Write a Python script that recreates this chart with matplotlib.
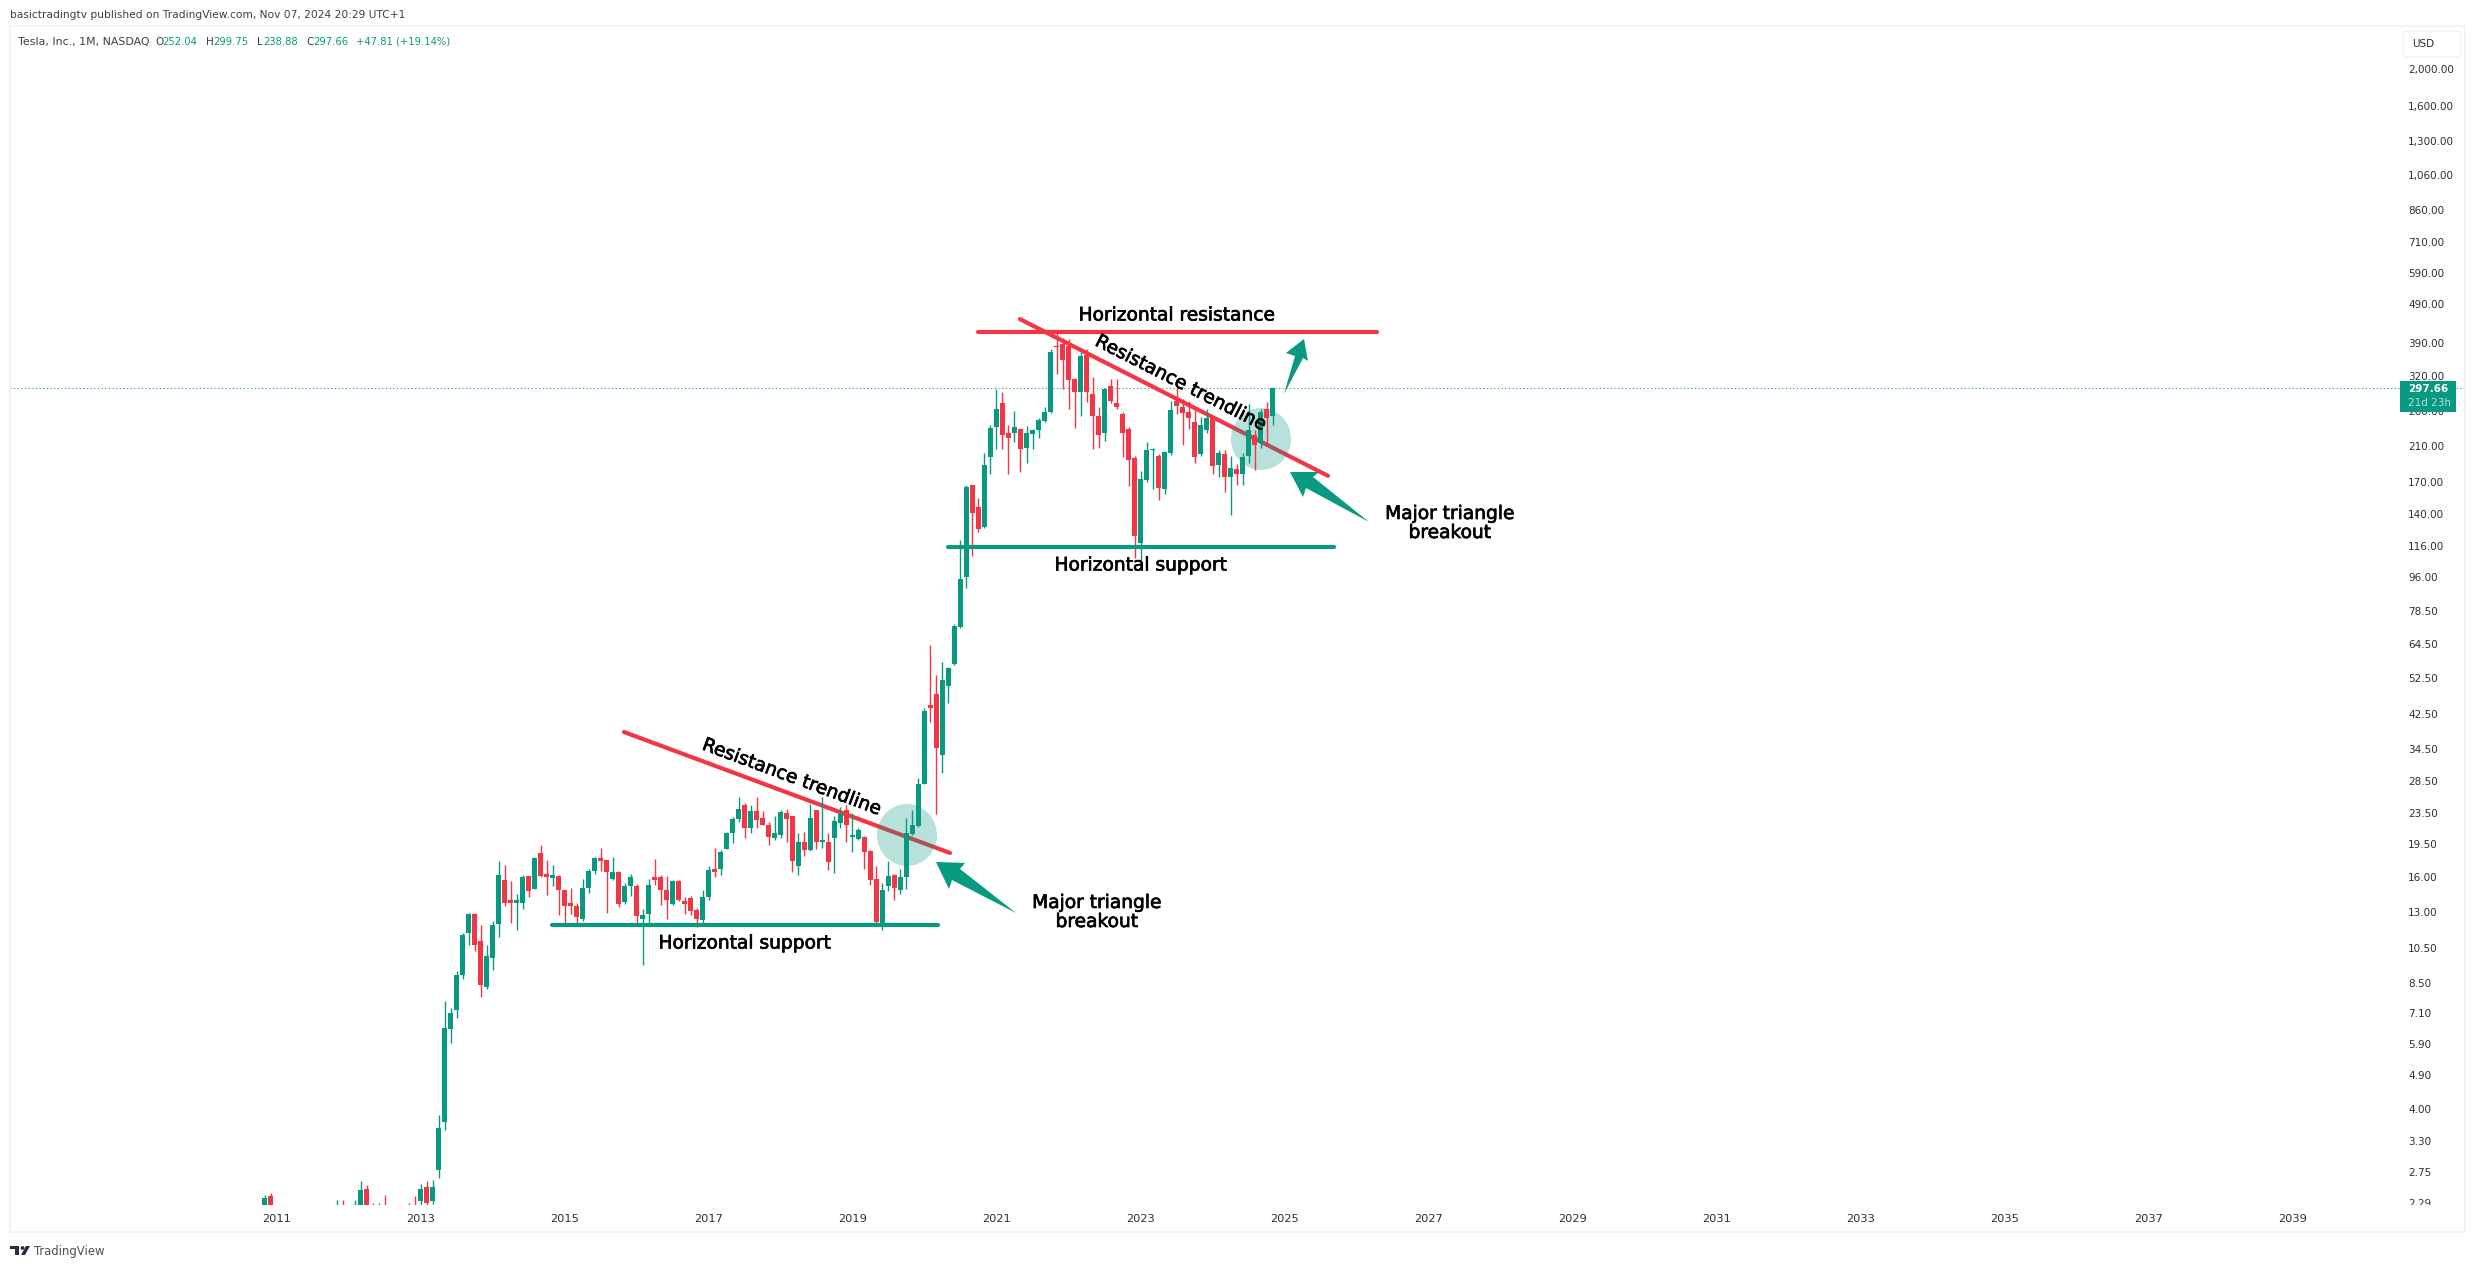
import matplotlib
matplotlib.use('Agg')
import matplotlib.pyplot as plt
import matplotlib.patheffects as pe
from matplotlib.patches import Ellipse, Polygon, Rectangle, FancyBboxPatch, Circle
from matplotlib.ticker import NullLocator
from matplotlib.transforms import Affine2D

W, H = 2475, 1268
GREEN = '#089981'
RED = '#F23645'
DARK = '#2a2e39'

# months counted from Jan 2011, 2010-2012 candles mostly sit below the visible scale
months_early = [-2, -1, 10, 11, 13, 14, 15, 16, 17, 18, 22, 23]
opens_early = [2.1, 2.38, 1.9, 2.2, 1.9, 2.0, 2.49, 2.2, 1.9, 2.1, 1.9, 2.2]
highs_early = [2.40, 2.43, 2.33, 2.33, 2.33, 2.6, 2.55, 2.29, 2.29, 2.40, 2.28, 2.38]
lows_early = [1.9, 1.7, 1.8, 1.9, 1.8, 1.9, 1.9, 2.0, 1.8, 1.9, 1.8, 2.0]
closes_early = [2.36, 1.78, 2.0, 1.9, 2.0, 2.47, 2.0, 2.1, 2.0, 2.0, 2.0, 2.05]

# monthly candles Jan 2013 - Nov 2024, one row per year
opens = [
    2.31, 2.52, 2.31, 2.79, 3.71, 6.46, 7.22, 8.92, 11.5, 12.85, 10.9, 8.3,
    9.9, 12.1, 15.75, 13.95, 13.75, 13.7, 16.1, 14.9, 18.5, 16.3, 15.9, 16.1,
    14.8, 13.7, 13.5, 12.5, 15.0, 16.6, 18.0, 17.7, 15.8, 16.5, 13.8, 15.2,
    15.2, 12.46, 12.85, 16.0, 16.0, 14.8, 13.6, 15.6, 13.9, 14.1, 13.15, 12.4,
    14.2, 16.8, 16.8, 18.9, 20.8, 22.7, 24.7, 21.5, 23.7, 22.8, 21.9, 20.2,
    20.6, 23.5, 23.0, 17.1, 19.7, 18.8, 23.9, 19.7, 19.8, 20.2, 22.1, 23.9,
    20.3, 20.1, 20.4, 18.7, 15.8, 12.2, 15.2, 16.2, 14.85, 16.0, 20.7, 21.7,
    27.9, 44.8, 47.8, 33.2, 50.0, 57.2, 71.5, 96, 167, 146, 130, 197,
    236, 272, 228, 228, 233, 208, 226, 231, 244, 258, 382, 386,
    382, 313, 290, 362, 287, 252, 227, 301, 272, 254, 233, 196,
    118, 172, 205, 198, 163, 202, 276, 266, 258, 243, 201, 231,
    248, 188, 200, 175, 183, 178, 198, 225, 214, 262, 252.04,
]
highs = [
    2.56, 2.6, 2.62, 3.87, 7.64, 7.33, 9.14, 11.5, 12.92, 12.95, 12.0, 10.7,
    12.3, 17.6, 17.2, 15.6, 14.5, 16.25, 16.1, 18.1, 19.4, 17.7, 17.2, 16.2,
    14.8, 15.0, 13.7, 15.8, 16.8, 18.1, 19.1, 17.7, 18.1, 16.6, 15.5, 16.3,
    15.4, 13.25, 15.8, 17.8, 16.2, 16.1, 15.7, 15.75, 14.2, 14.3, 13.3, 14.85,
    17.1, 19.1, 18.8, 21.0, 22.9, 25.8, 25.0, 24.6, 25.9, 23.8, 22.2, 23.0,
    23.9, 24.0, 23.1, 20.9, 21.0, 24.8, 23.9, 25.8, 20.9, 23.0, 24.4, 24.7,
    23.5, 21.5, 20.5, 18.8, 17.1, 15.5, 17.6, 16.3, 16.8, 22.8, 23.9, 29.0,
    43.9, 64.1, 53.7, 57.8, 56.1, 72.5, 119.7, 167, 167, 154, 202, 239,
    295, 290, 239, 260, 234, 237, 233, 248, 265, 375, 413, 400,
    398, 315, 369, 376, 318, 265, 298, 314, 314, 257, 236, 198,
    181, 216, 208, 200, 204, 276, 299, 278, 276, 265, 250, 263,
    251, 205, 205, 198, 189, 202, 271, 232, 263, 273, 299.75,
]
lows = [
    2.2, 2.2, 2.27, 2.66, 3.53, 5.93, 6.91, 8.7, 10.7, 10.3, 7.8, 8.2,
    9.2, 11.2, 13.45, 12.2, 11.7, 13.25, 14.2, 14.9, 16.0, 14.4, 15.2, 12.75,
    12.2, 12.85, 12.0, 12.3, 14.6, 16.3, 16.6, 12.95, 15.75, 13.4, 13.6, 14.3,
    12.0, 9.45, 12.15, 15.3, 13.55, 12.5, 13.55, 13.9, 12.85, 12.8, 11.85, 12.15,
    14.0, 16.0, 16.2, 18.9, 19.6, 22.2, 20.2, 20.85, 21.5, 21.8, 19.4, 20.0,
    20.2, 19.7, 16.5, 16.2, 18.2, 18.7, 18.9, 19.0, 16.7, 16.4, 21.5, 19.7,
    18.6, 20.0, 16.8, 15.3, 12.1, 11.7, 14.7, 14.0, 14.5, 14.95, 20.6, 21.6,
    27.9, 40.4, 23.4, 29.8, 45.4, 57.0, 71.0, 90, 109, 126, 129, 178,
    207, 207, 178, 216, 180, 190, 207, 220, 243, 256, 323, 295,
    262, 234, 251, 273, 207, 208, 217, 272, 262, 197, 166, 108,
    106, 170, 163, 152, 158, 199, 254, 212, 233, 190, 198, 228,
    178, 175, 160, 139, 167, 167, 190, 182, 208, 212, 238.88,
]
closes = [
    2.49, 2.29, 2.51, 3.58, 6.5, 7.11, 8.92, 11.3, 12.85, 10.7, 8.4, 10.0,
    12.0, 16.2, 13.7, 13.7, 14.0, 16.0, 14.7, 17.9, 16.1, 16.0, 16.2, 14.8,
    13.5, 13.45, 12.6, 15.0, 16.6, 17.9, 17.6, 16.5, 16.5, 13.6, 15.2, 16.0,
    12.7, 12.8, 15.25, 15.75, 14.8, 14.0, 15.6, 14.0, 13.6, 13.1, 12.45, 14.2,
    16.7, 16.5, 18.6, 20.9, 22.7, 24.1, 21.5, 23.7, 22.5, 21.8, 20.3, 20.8,
    23.6, 22.7, 17.6, 19.7, 18.8, 22.8, 19.8, 20.0, 17.5, 22.4, 23.4, 21.9,
    20.6, 21.2, 18.6, 15.75, 12.25, 14.85, 16.1, 15.0, 16.0, 20.9, 21.85, 27.9,
    43.2, 44.0, 34.7, 52.0, 55.7, 71.9, 95.0, 165, 141, 128, 188, 234,
    262, 224, 220, 236, 207, 227, 231, 245, 258, 369, 381, 352,
    312, 290, 360, 290, 252, 224, 296, 275, 265, 227, 194, 123,
    173, 205, 207, 164, 203, 261, 267, 256, 248, 197, 239, 248,
    187, 202, 175, 184, 178, 197, 232, 212, 258, 249, 297.66,
]
months = months_early + list(range(24, 167))
opens = opens_early + opens
highs = highs_early + highs
lows = lows_early + lows
closes = closes_early + closes

last_price = 297.66
price_ticks = [2000, 1600, 1300, 1060, 860, 710, 590, 490, 390, 320, 260, 210, 170, 140, 116,
               96, 78.5, 64.5, 52.5, 42.5, 34.5, 28.5, 23.5, 19.5, 16, 13, 10.5, 8.5, 7.1,
               5.9, 4.9, 4.0, 3.3, 2.75, 2.29]
year_ticks = list(range(2011, 2040, 2))

# trendlines: (month, price) end points
resistance_1 = ([57.9, 112.25], [38.1, 18.5])
support_1 = ([45.9, 110.25], [12.03, 12.03])
resistance_2 = ([123.9, 175.25], [449, 176])
horiz_resistance = ([116.9, 183.4], [415, 415])
support_2 = ([111.9, 176.25], [115, 115])

fig = plt.figure(figsize=(W / 100, H / 100), dpi=100, facecolor='white')
# everything drawn on top of the chart is placed in image pixels, y downwards
pix = Affine2D().scale(1, -1).translate(0, H)

left, right, top, bottom = 10, 2465, 26, 1205
ax = fig.add_axes([left / W, 1 - bottom / H, (right - left) / W, (bottom - top) / H])
ax.set_yscale('log')
for s in ax.spines.values():
    s.set_visible(False)

for m, o, h, l, c in zip(months, opens, highs, lows, closes):
    col = GREEN if c >= o else RED
    ax.vlines(m, l, h, color=col, linewidth=1.0, zorder=3)
    ax.bar(m, abs(c - o), bottom=min(o, c), width=5.5 / 6, color=col, linewidth=0, zorder=3)

ax.axhline(last_price, color=GREEN, linewidth=0.75, linestyle=(0, (1, 2.5)), zorder=1)

for xs, ys in [resistance_1, resistance_2]:
    ax.plot(xs, ys, color=RED, linewidth=3.0, solid_capstyle='round', zorder=1.5)
ax.plot(*horiz_resistance, color=RED, linewidth=3.0, solid_capstyle='round', zorder=4)
for xs, ys in [support_1, support_2]:
    ax.plot(xs, ys, color=GREEN, linewidth=3.0, solid_capstyle='round', zorder=4)

ax.set_xlim((left - 276.5) / 6, (right - 276.5) / 6)
ax.set_ylim(2.258, 2586)

ax.xaxis.set_ticks([(y - 2011) * 12 for y in year_ticks], labels=[str(y) for y in year_ticks])
ax.tick_params(axis='x', length=0, pad=6.5, labelsize=8.2, labelcolor=DARK)
ax.yaxis.tick_right()
ax.set_yticks(price_ticks, labels=[f'{p:,.2f}' for p in price_ticks])
ax.yaxis.set_minor_locator(NullLocator())
ax.tick_params(axis='y', which='both', length=0, pad=-41, labelsize=7.5, labelcolor=DARK)
for lab in ax.yaxis.get_ticklabels():
    lab.set_clip_on(True)
    lab.set_clip_box(ax.bbox)

# breakout circles
for cx, cy in [(907, 835), (1261, 439)]:
    ax.add_patch(Ellipse((cx, cy), 60, 62, transform=pix, facecolor=GREEN, alpha=0.29,
                         linewidth=0, zorder=2))

# arrows
arrows = [
    [(936, 862), (965, 863), (960, 869), (1016, 913), (952, 880), (949, 889)],
    [(1290, 472), (1319, 472), (1313, 477), (1369, 522), (1306, 488), (1303, 497)],
    [(1304, 339), (1308, 361), (1303, 358), (1284, 394), (1295, 356), (1286, 353)],
]
for pts in arrows:
    ax.add_patch(Polygon(pts, closed=True, transform=pix, facecolor=GREEN, edgecolor='none',
                         clip_on=False, zorder=5))

# drawing labels
labels = [
    (1177, 315, 'Horizontal resistance', 0),
    (1141, 565, 'Horizontal support', 0),
    (745, 943, 'Horizontal support', 0),
    (792, 777, 'Resistance trendline', -20.4),
    (1181, 383, 'Resistance trendline', -27),
    (1097, 912, 'Major triangle\nbreakout', 0),
    (1450, 523, 'Major triangle\nbreakout', 0),
]
for x, y, s, rot in labels:
    t = ax.text(x, y, s, transform=pix, fontsize=13.4, color='black', ha='center', va='center',
                rotation=rot, rotation_mode='anchor', linespacing=1.0, zorder=6)
    t.set_path_effects([pe.withStroke(linewidth=0.5, foreground='black')])

# last price label
ax.add_patch(Rectangle((2400, 381), 56, 31, transform=pix, facecolor=GREEN, edgecolor='none',
                       clip_on=False, zorder=7))
ax.text(2408, 389.5, '297.66', transform=pix, fontsize=7.5, fontweight='bold', color='white',
        va='center', zorder=8)
ax.text(2408, 403, '21d 23h', transform=pix, fontsize=7.5, color='#B5E0D9', va='center', zorder=8)

# USD button
ax.add_patch(FancyBboxPatch((2405, 33), 54, 22, boxstyle='round,pad=2,rounding_size=4', transform=pix,
                            facecolor='white', edgecolor='#F0F3FA', linewidth=1.2, clip_on=False,
                            zorder=7))
ax.text(2412, 44, 'USD', transform=pix, fontsize=7.5, color=DARK, va='center', zorder=8)

# pane border
fig.add_artist(Rectangle((left, top), right - left, 1232 - top, transform=pix, facecolor='none',
                         edgecolor='#F0F3FA', linewidth=1.4))

# header texts
hdr = '#3b3e46'
fig.text(10, 15, 'basictradingtv published on TradingView.com, Nov 07, 2024 20:29 UTC+1', transform=pix,
         fontsize=7.65, color=hdr, va='center')
fig.text(18, 42, 'Tesla, Inc., 1M, NASDAQ', transform=pix, fontsize=7.9, color=hdr, va='center')
for x, s in [(155, 'O'), (206, 'H'), (257, 'L'), (306, 'C')]:
    fig.text(x, 42, s, transform=pix, fontsize=7.4, color=hdr, va='center')
for x, s in [(162, '252.04'), (213, '299.75'), (263, '238.88'), (313, '297.66'),
             (356, '+47.81 (+19.14%)')]:
    fig.text(x, 42, s, transform=pix, fontsize=7.2, color=GREEN, va='center')

# TradingView logo
fig.add_artist(Polygon([(10, 1246), (19, 1246), (19, 1255), (15, 1255), (15, 1249), (10, 1249)],
                       closed=True, transform=pix, facecolor=DARK, edgecolor='none'))
fig.add_artist(Circle((22.5, 1248), 1.9, transform=pix, facecolor=DARK, edgecolor='none'))
fig.add_artist(Polygon([(26, 1246), (30, 1246), (25, 1255), (21, 1255)], closed=True, transform=pix,
                       facecolor=DARK, edgecolor='none'))
fig.text(34, 1251, 'TradingView', transform=pix, fontsize=8.4, color='#4a4e57', va='center')

fig.savefig('out.png', dpi=100)
